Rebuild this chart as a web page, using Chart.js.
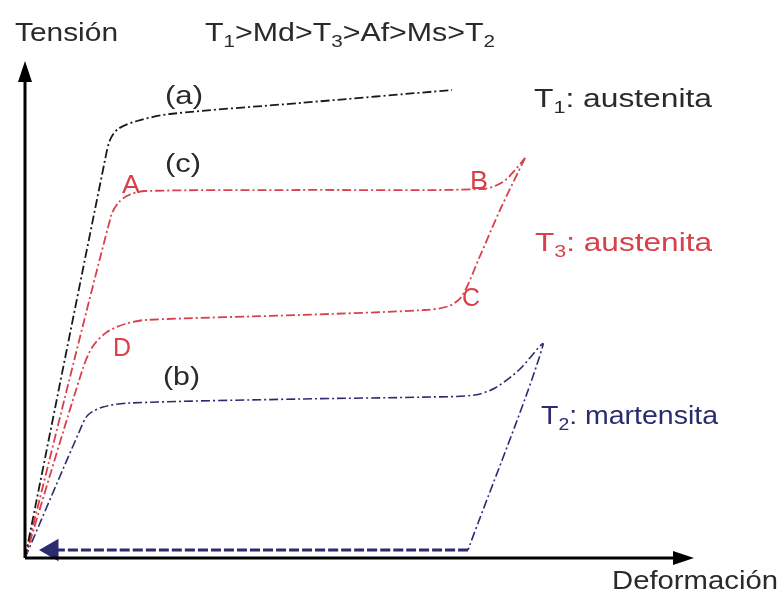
<!DOCTYPE html>
<html lang="es">

<head>
    <meta charset="UTF-8">
    <title>Curvas tensión-deformación</title>
    <script src="https://cdn.jsdelivr.net/npm/chart.js@4.4.1/dist/chart.umd.min.js"></script>
    <style>
        body { margin: 0; background: #fff; }
        canvas { display: block; }
    </style>
</head>

<body>
    <canvas id="myChart" width="782" height="596"></canvas>

    <script>
        // Curva (a): T1, austenita estable
        var curveA = [[0, 0], [80, 398], [85, 418], [93, 429], [112, 437], [145, 444], [275, 455], [427, 468]];

        // Curva (c): T3, carga A -> B y descarga C -> D
        var curveCLoad = [[0, 0], [86, 342], [94, 356], [104, 363], [120, 367], [275, 368], [458, 369], [478, 376], [490, 388], [500, 400]];
        var curveCUnload = [[500, 400], [475, 348], [455, 302], [437, 262], [424, 252], [400, 248], [275, 243], [120, 238], [100, 234], [82, 226], [68, 212], [58, 190], [0, 0]];

        // Curva (b): T2, martensita, y recuperación al calentar
        var curveB = [[0, 0], [55, 128], [63, 143], [78, 151], [105, 155], [275, 159], [405, 161], [450, 163], [470, 170], [494, 188], [518, 213], [443, 8]];
        var curveBReturn = [[443, 8], [27, 8]];

        var black = "#1a1a1a";
        var red = "#d8404a";
        var navy = "#2b2b70";

        function pts(arr) {
            return arr.map(function (p) { return { x: p[0], y: p[1] }; });
        }

        // Textos: partes [texto, subíndice], x izquierda, y base, ancho total
        var labels = [
            { parts: [["Tensión"]], x: 15, y: 41, w: 103, color: "#2a2a2a" },
            { parts: [["T"], ["1", true], [">Md>T"], ["3", true], [">Af>Ms>T"], ["2", true]], x: 205, y: 41, w: 290, color: "#2a2a2a" },
            { parts: [["(a)"]], x: 165, y: 104, w: 38, color: "#2a2a2a" },
            { parts: [["(c)"]], x: 165, y: 172, w: 36, color: "#2a2a2a" },
            { parts: [["A"]], x: 122, y: 193, w: 18, color: red },
            { parts: [["B"]], x: 470, y: 189, w: 18, color: red },
            { parts: [["C"]], x: 462, y: 306, w: 18, color: red },
            { parts: [["D"]], x: 113, y: 356, w: 18, color: red },
            { parts: [["(b)"]], x: 163, y: 385, w: 37, color: "#2a2a2a" },
            { parts: [["T"], ["1", true], [": austenita"]], x: 534, y: 107, w: 178, color: "#2a2a2a" },
            { parts: [["T"], ["3", true], [": austenita"]], x: 535, y: 251, w: 177, color: red },
            { parts: [["T"], ["2", true], [": martensita"]], x: 541, y: 424, w: 177, color: navy },
            { parts: [["Deformación"]], x: 612, y: 589, w: 166, color: "#2a2a2a" }
        ];

        var FONT = "Liberation Sans, Arial, sans-serif";

        function drawLabel(ctx, lab) {
            var size = 25, sub = 17;
            // medir el ancho natural para ajustar al ancho indicado
            var natural = 0;
            lab.parts.forEach(function (p) {
                ctx.font = (p[1] ? sub : size) + "px " + FONT;
                natural += ctx.measureText(p[0]).width;
            });
            var sx = lab.w / natural;
            ctx.save();
            ctx.translate(lab.x, lab.y);
            ctx.scale(sx, 1);
            ctx.fillStyle = lab.color;
            ctx.textBaseline = "alphabetic";
            var cx = 0;
            lab.parts.forEach(function (p) {
                ctx.font = (p[1] ? sub : size) + "px " + FONT;
                ctx.fillText(p[0], cx, p[1] ? 6 : 0);
                cx += ctx.measureText(p[0]).width;
            });
            ctx.restore();
        }

        // Ejes con flechas y textos
        var decorations = {
            id: "decorations",
            afterDatasetsDraw: function (chart) {
                var ctx = chart.ctx;
                var xs = chart.scales.x, ys = chart.scales.y;
                var ox = xs.getPixelForValue(0), oy = ys.getPixelForValue(0);
                ctx.save();
                ctx.strokeStyle = "#000";
                ctx.fillStyle = "#000";
                ctx.lineWidth = 3;
                ctx.beginPath();
                ctx.moveTo(ox, oy);
                ctx.lineTo(ox, 80);
                ctx.moveTo(ox, oy);
                ctx.lineTo(676, oy);
                ctx.stroke();
                // flecha eje vertical
                ctx.beginPath();
                ctx.moveTo(ox, 61);
                ctx.lineTo(ox - 7, 82);
                ctx.lineTo(ox + 7, 82);
                ctx.closePath();
                ctx.fill();
                // flecha eje horizontal
                ctx.beginPath();
                ctx.moveTo(694, oy);
                ctx.lineTo(673, oy - 7);
                ctx.lineTo(673, oy + 7);
                ctx.closePath();
                ctx.fill();
                ctx.restore();

                labels.forEach(function (lab) { drawLabel(ctx, lab); });
            }
        };

        var dash = [9, 3, 2, 3];

        var chart = new Chart(document.getElementById("myChart"), {
            type: "scatter",
            data: {
                datasets: [{
                    label: "(a)",
                    data: pts(curveA),
                    borderColor: black,
                    borderWidth: 1.8,
                    borderDash: dash
                }, {
                    label: "(c) carga",
                    data: pts(curveCLoad),
                    borderColor: red,
                    borderWidth: 1.8,
                    borderDash: dash
                }, {
                    label: "(c) descarga",
                    data: pts(curveCUnload),
                    borderColor: red,
                    borderWidth: 1.8,
                    borderDash: dash
                }, {
                    label: "(b)",
                    data: pts(curveB),
                    borderColor: navy,
                    borderWidth: 1.6,
                    borderDash: dash
                }, {
                    label: "(b) recuperación",
                    data: pts(curveBReturn),
                    borderColor: navy,
                    backgroundColor: navy,
                    borderWidth: 3,
                    borderDash: [10, 3],
                    pointStyle: "triangle",
                    pointRotation: -90,
                    pointRadius: [0, 10]
                }]
            },
            options: {
                responsive: false,
                animation: false,
                layout: { padding: 0, autoPadding: false },
                elements: {
                    line: { tension: 0.3, fill: false },
                    point: { radius: 0, hoverRadius: 0 }
                },
                datasets: {
                    scatter: { showLine: true }
                },
                plugins: {
                    legend: { display: false },
                    tooltip: { enabled: false }
                },
                scales: {
                    x: { type: "linear", min: -25, max: 757, display: false },
                    y: { type: "linear", min: -38, max: 558, display: false }
                }
            },
            plugins: [decorations]
        });
    </script>
</body>

</html>
